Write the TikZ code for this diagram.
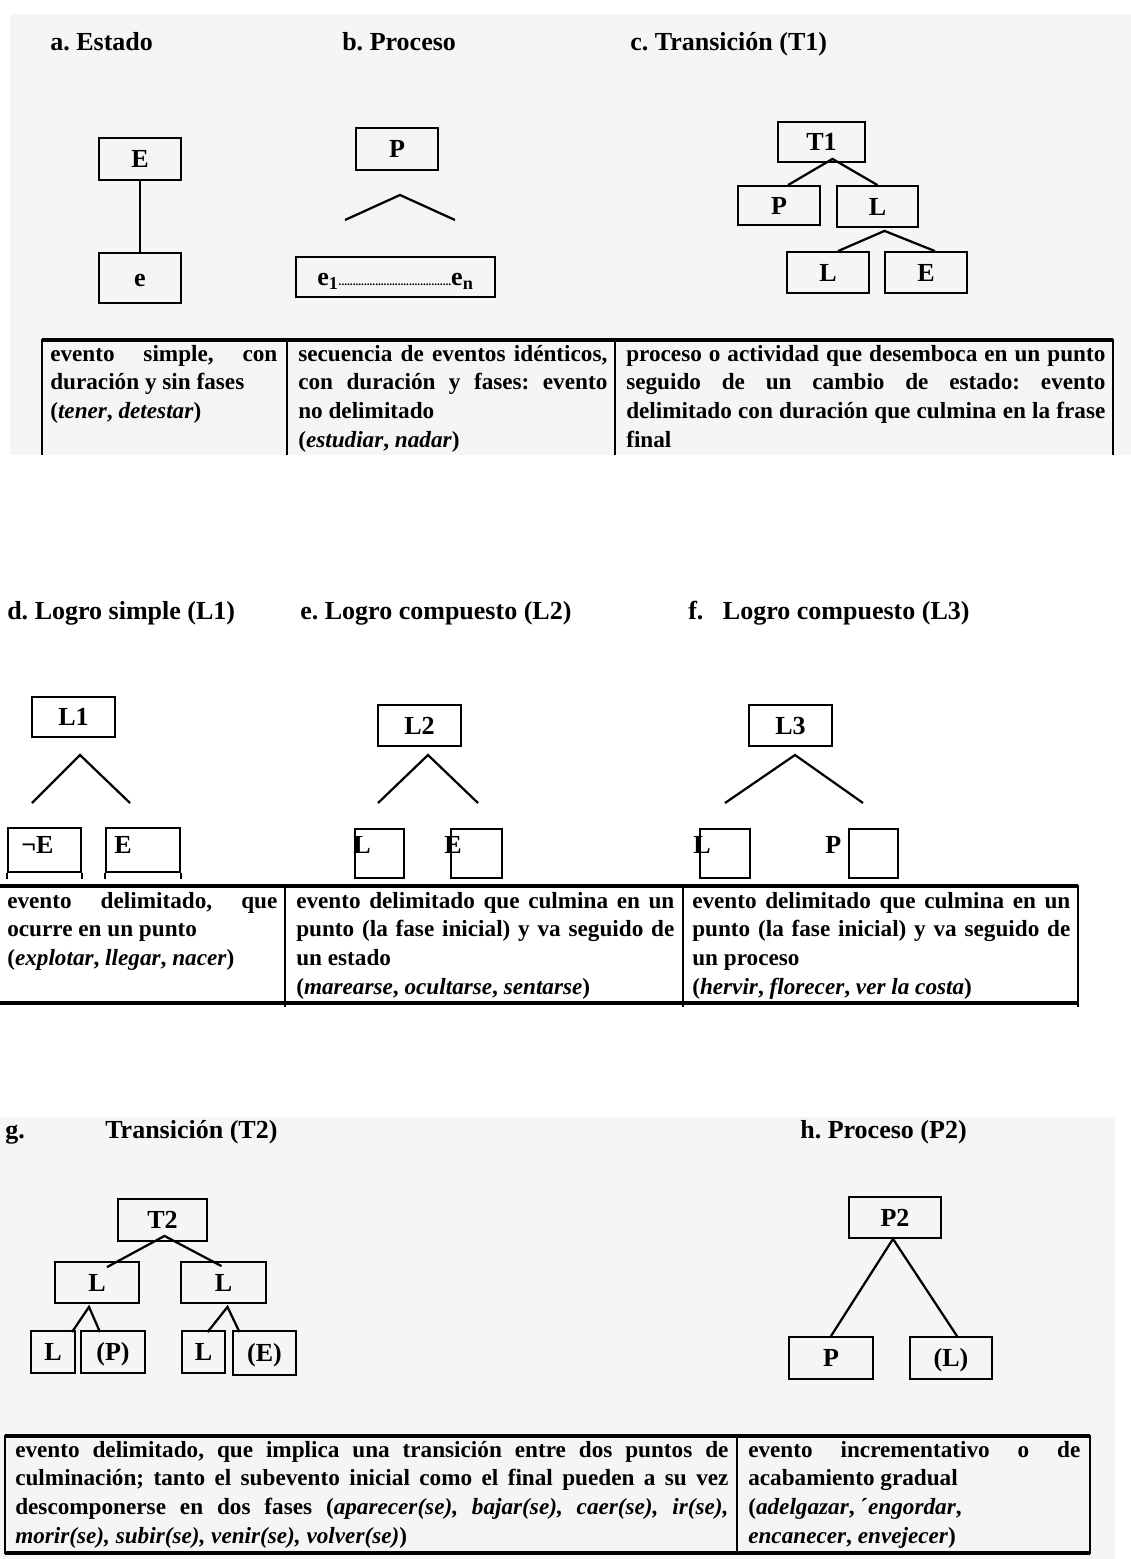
\documentclass[tikz,border=0pt]{standalone}
\usepackage{fontspec}
\setmainfont{Liberation Serif}
\usetikzlibrary{calc}
\definecolor{pagegrey}{HTML}{F5F5F5}
\tolerance=9999 \hbadness=10000 \hyphenpenalty=10000
\frenchspacing
\begin{document}
\begin{tikzpicture}[x=0.025cm,y=-0.025cm,
	every node/.style={inner sep=0pt,font=\bfseries\fontsize{18.5}{21}\selectfont},
	ebox/.style 2 args={draw,line width=1.3pt,text height=12.2pt,text depth=0pt,minimum width=#1*0.025cm,minimum height=#2*0.025cm},
	head/.style={anchor=base west},
	cell/.style={anchor=north west,align=justify,font=\bfseries\fontsize{16.5}{20.3}\selectfont},
	branch/.style={line width=1.6pt},
	rule/.style={line width=1.3pt},
	toprule/.style={line width=2.2pt}]
	\useasboundingbox (0,0) rectangle (1131,1559);
	\fill[pagegrey] (10,14) rectangle (1131,455);
	\fill[pagegrey] (0,1117) rectangle (1115,1559);
	% a. b. c.
	\node[head] (ahead) at (50,50) {a. Estado};
	\node[head] (bhead) at (342,50) {b. Proceso};
	\node[head] (chead) at (630,50) {c. Transición (T1)};
	\node[ebox={82}{42}] (aE) at (140,159) {E};
	\node[ebox={82}{50}] (ae) at (140,278) {e};
	\draw[rule] (aE) -- (ae);
	\node[ebox={82}{42}] (bP) at (397,149) {P};
	\draw[branch] (345,220) -- (400,195) -- (455,220);
	\node[ebox={199}{40}] (bseq) at (395.5,277) {e\textsubscript{1}{\fontsize{8}{8}\selectfont ........................................}e\textsubscript{n}};
	\node[ebox={87}{40}] (cT) at (821.5,142) {T1};
	\node[ebox={82}{39}] (cP) at (779,205.5) {P};
	\node[ebox={81}{41}] (cL) at (877.5,206.5) {L};
	\node[ebox={82}{41}] (cLL) at (828,272.5) {L};
	\node[ebox={82}{41}] (cE) at (926,272.5) {E};
	\coordinate (cTa) at ($(cT.south)+(11,-4)$);
	\coordinate (cLa) at ($(cL.south)+(7,3)$);
	\draw[branch] ($(cP.north)+(9,0)$) -- (cTa) -- (cL.north);
	\draw[branch] ($(cLL.north)+(10,0)$) -- (cLa) -- ($(cE.north)+(9,0)$);
	\draw[toprule] (42,340) -- (1113,340);
	\foreach \x in {42,287,615,1113} \draw[rule] (\x,339) -- (\x,455);
	\node[cell,text width=5.675cm] (atext) at (50,345) {evento simple, con\linebreak duración y sin fases\\ (\textit{tener}, \textit{detestar})};
	\node[cell,text width=7.725cm] (btext) at (298,345) {secuencia de eventos idénticos,\linebreak con duración y fases: evento\linebreak no delimitado\\ (\textit{estudiar}, \textit{nadar})};
	\node[cell,text width=11.975cm] (ctext) at (626,345) {proceso o actividad que desemboca en un punto\linebreak seguido de un cambio de estado: evento\linebreak delimitado con duración que culmina en la frase\linebreak final};
	% d. e. f.
	\node[head] (dhead) at (7,619) {d. Logro simple (L1)};
	\node[head] (ehead) at (300,619) {e. Logro compuesto (L2)};
	\node[head] (fhead) at (688,619) {f.\hspace{0.75em}Logro compuesto (L3)};
	\node[ebox={83}{40}] (dL1) at (73.5,717) {L1};
	\draw[branch] (32,803) -- (80,755) -- (130,803);
	\node[ebox={73}{44}] (dnE) at (44.5,850) {};
	\node[ebox={74}{44}] (dE) at (143,850) {};
	\foreach \b in {dnE,dE} \draw[rule] (\b.south west) -- ++(0,6) (\b.south east) -- ++(0,6);
	\node[anchor=west] (dnEl) at (21,845) {¬E};
	\node[anchor=west] (dEl) at (114,845) {E};
	\node[ebox={83}{41}] (eL2) at (419.5,725.5) {L2};
	\draw[branch] (378,803) -- (428,755) -- (478,803);
	\node[ebox={49}{49}] (eL) at (379.5,853.5) {};
	\node[ebox={51}{49}] (eE) at (476.5,853.5) {};
	\node[anchor=west] (eLl) at (353,845) {L};
	\node[anchor=west] (eEl) at (444,845) {E};
	\node[ebox={83}{41}] (fL3) at (790.5,725.5) {L3};
	\draw[branch] (725,803) -- (795,755) -- (863,803);
	\node[ebox={50}{49}] (fL) at (725,853.5) {};
	\node[ebox={49}{49}] (fP) at (873.5,853.5) {};
	\node[anchor=west] (fLl) at (693,845) {L};
	\node[anchor=west] (fPl) at (825,845) {P};
	\draw[toprule] (0,886) -- (1078,886) (0,1003) -- (1078,1003);
	\foreach \x in {285,683,1078} \draw[rule] (\x,885) -- (\x,1007);
	\node[cell,text width=6.75cm] (dtext) at (7,892) {evento delimitado, que\linebreak ocurre en un punto\\ (\textit{explotar}, \textit{llegar}, \textit{nacer})};
	\node[cell,text width=9.45cm] (etext) at (296,892) {evento delimitado que culmina en un\linebreak punto (la fase inicial) y va seguido de\linebreak un estado\\ (\textit{marearse}, \textit{ocultarse}, \textit{sentarse})};
	\node[cell,text width=9.45cm] (ftext) at (692,892) {evento delimitado que culmina en un\linebreak punto (la fase inicial) y va seguido de\linebreak un proceso\\ (\textit{hervir}, \textit{florecer}, \textit{ver la costa})};
	% g. h.
	\node[head] (ghead) at (5,1138) {g.};
	\node[head] (gtitle) at (105,1138) {Transición (T2)};
	\node[head] (hhead) at (800,1138) {h. Proceso (P2)};
	\node[ebox={89}{42}] (gT) at (162.5,1220) {T2};
	\node[ebox={84}{41}] (gL1) at (97,1282.5) {L};
	\node[ebox={85}{41}] (gL2) at (223.5,1282.5) {L};
	\node[ebox={44}{42}] (gLL) at (53,1352) {L};
	\node[ebox={64}{42}] (gP) at (113,1352) {(P)};
	\node[ebox={43}{42}] (gRL) at (203.5,1352) {L};
	\node[ebox={63}{44}] (gE) at (264.5,1353) {(E)};
	\coordinate (gTa) at ($(gT.south)+(2,-6)$);
	\coordinate (gL1a) at ($(gL1.south)+(-8,3)$);
	\coordinate (gL2a) at ($(gL2.south)+(4,3)$);
	\draw[branch] ($(gL1.north)+(10,6)$) -- (gTa) -- ($(gL2.north)+(-2,5)$);
	\draw[branch] ($(gLL.north)+(19,2)$) -- (gL1a) -- ($(gP.north)+(-13,2)$);
	\draw[branch] ($(gRL.north)+(4,2)$) -- (gL2a) -- ($(gE.north)+(-25,2)$);
	\node[ebox={92}{41}] (hP2) at (895,1217.5) {P2};
	\node[ebox={84}{42}] (hP) at (831,1358) {P};
	\node[ebox={82}{42}] (hL) at (951,1358) {(L)};
	\draw[branch] (hP.north) -- ($(hP2.south)+(-2,0)$) -- ($(hL.north)+(6,0)$);
	\draw[toprule] (5,1436) -- (1090,1436) (5,1553) -- (1090,1553);
	\foreach \x in {5,737,1090} \draw[rule] (\x,1435) -- (\x,1554);
	\node[cell,text width=17.825cm] (gtext) at (15,1441) {evento delimitado, que implica una transición entre dos puntos de\linebreak culminación; tanto el subevento inicial como el final pueden a su vez\linebreak descomponerse en dos fases (\textit{aparecer(se), bajar(se), caer(se), ir(se),}\linebreak \textit{morir(se), subir(se), venir(se), volver(se)})};
	\node[cell,text width=8.3cm] (htext) at (748,1441) {evento incrementativo o de\linebreak acabamiento gradual\\ (\textit{adelgazar}, ´\textit{engordar},\\ \textit{encanecer}, \textit{envejecer})};
\end{tikzpicture}
\end{document}
